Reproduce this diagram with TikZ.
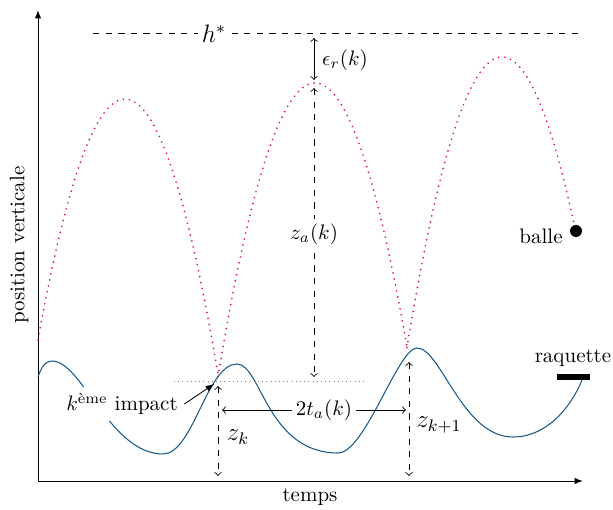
\documentclass[tikz,border=0pt]{standalone}
\usetikzlibrary{arrows}
\definecolor{ballcol}{RGB}{220,20,70}
\definecolor{racketcol}{RGB}{20,90,140}
\begin{document}
\begin{tikzpicture}[x=0.4762pt,y=-0.4762pt,
  axis/.style={draw=black,-latex},
  dimsolid/.style={<->},
  dimdash/.style={<->,dashed},
  balltraj/.style={draw=ballcol,line width=0.9pt,line cap=round,dash pattern=on 0pt off 2.9pt},
  racket/.style={draw=racketcol,line width=0.5pt},
  refline/.style={draw=gray,dash pattern=on 0.4pt off 1.6pt},
  bglbl/.style={fill=white,inner sep=2pt},
  lbl/.style={inner sep=2pt}]
\useasboundingbox (0,0) rectangle (613,510);
% axes
\coordinate (O) at (38,481);
\coordinate (Ytop) at (38,10);
\coordinate (Xend) at (583,481);
\draw[axis] (O) -- (Ytop);
\draw[axis] (O) -- (Xend);
\node[rotate=90] (ylab) at (19,245) {position verticale};
\node (xlab) at (310,497) {temps};
% h* line
\coordinate (hL) at (93,33);
\coordinate (hR) at (583,33);
\draw[dashed] (hL) -- (hR);
\node[bglbl] (hstar) at (214,34) {\large $h^{*}$};
% ball trajectory
\draw[balltraj] plot[domain=38:218,samples=70] (\x,{99+0.0318*(\x-125)*(\x-125)});
\draw[balltraj] plot[domain=218:407,samples=70] (\x,{83+0.0312*(\x-315)*(\x-315)});
\draw[balltraj] plot[domain=407:574,samples=70] (\x,{57+0.0322*(\x-502)*(\x-502)});
\fill[black] (576,231) circle (6);
\node (balle) at (541,236) {balle};
% racket trajectory
\draw[racket] (38,377) .. controls (41,368) and (45,361) .. (52,361)
  .. controls (82,361) and (110,454) .. (163,454)
  .. controls (193,454) and (207,364) .. (237,364)
  .. controls (261,364) and (267,453) .. (338,453)
  .. controls (365,453) and (398,348) .. (417,348)
  .. controls (441,348) and (462,437) .. (513,437)
  .. controls (548,437) and (572,405) .. (582,380);
\fill[black] (557,374) rectangle (590,380);
\node (raq) at (573,358) {raquette};
% reference line at impact height
\coordinate (rlL) at (174,381);
\coordinate (rlR) at (365,381);
\draw[refline] (rlL) -- (rlR);
% epsilon_r
\coordinate (eT) at (314,38);
\coordinate (eB) at (314,80);
\draw[dimsolid] (eT) -- (eB);
\node (eps) at (345,60) {$\epsilon_r(k)$};
% z_a
\coordinate (zaT) at (314,88);
\coordinate (zaB) at (314,377);
\draw[dimdash] (zaT) -- (zaB);
\node[bglbl] (za) at (314,234) {$z_a(k)$};
% z_k
\coordinate (zkT) at (218,386);
\coordinate (zkB) at (218,476);
\draw[dimdash] (zkT) -- (zkB);
\node (zk) at (238,437) {\large $z_k$};
% z_{k+1}
\coordinate (zkkT) at (409,362);
\coordinate (zkkB) at (409,476);
\draw[dimdash] (zkkT) -- (zkkB);
\node (zkk) at (439,425) {\large $z_{k+1}$};
% 2 t_a
\coordinate (taL) at (222,410);
\coordinate (taR) at (406,410);
\draw[dimsolid] (taL) -- (taR);
\node[bglbl] (ta) at (324,410) {$2t_a(k)$};
% k-th impact
\node[fill=white,inner sep=3pt] (imp) at (122,404) {$k^{\mbox{\scriptsize\`eme}}$ impact};
\coordinate (impP) at (214,384);
\draw[-latex] (imp.east) -- (impP);
\end{tikzpicture}
\end{document}
